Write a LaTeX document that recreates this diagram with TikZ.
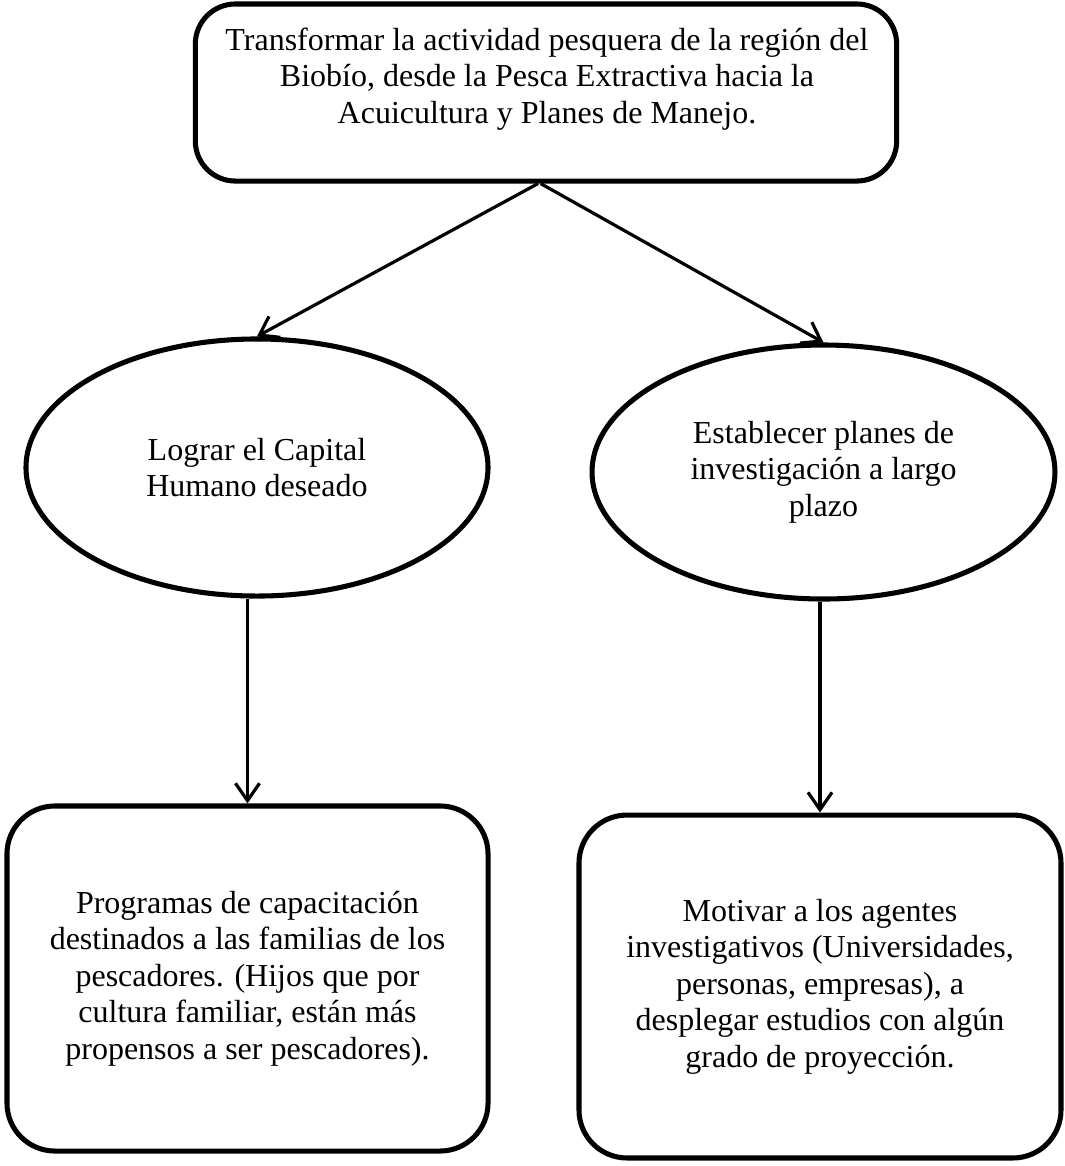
\documentclass[tikz,border=0pt]{standalone}
\usepackage{fontspec}
\setmainfont{Liberation Serif}
\usetikzlibrary{shapes.geometric,arrows.meta}
\begin{document}
\begin{tikzpicture}[x=0.375pt,y=-0.375pt,
    every node/.style={font=\fontsize{12}{13.7}\selectfont,align=center},
    roundbox/.style={draw,line width=1.9pt,rounded corners=18pt,inner sep=0pt},
    oval/.style={draw,ellipse,line width=1.9pt,inner sep=0pt},
    arr/.style={line width=1.2pt,-{Straight Barb[length=6.5pt,width=9pt,line width=1.2pt]}}]
    \useasboundingbox (0,0) rectangle (1065,1166);
    \node[roundbox,rounded corners=15pt,minimum width=263pt,minimum height=66.4pt] (goal) at (546,92.5) {};
    \node at (547,79) {Transformar la actividad pesquera de la región del\\
        Biobío, desde la Pesca Extractiva hacia la\\
        Acuicultura y Planes de Manejo.};
    \node[oval,minimum width=173.25pt,minimum height=96.4pt] (capital) at (257,467.5)
        {Lograr el Capital\\Humano deseado};
    \node[oval,minimum width=173.6pt,minimum height=95.25pt] (plan) at (823.5,472)
        {Establecer planes de\\investigación a largo\\plazo};
    \node[roundbox,minimum width=180.4pt,minimum height=129.4pt] (prog) at (247.5,978.5)
        {Programas de capacitación\\destinados a las familias de los\\pescadores. (Hijos que por\\
        cultura familiar, están más\\propensos a ser pescadores).};
    \node[roundbox,minimum width=180.75pt,minimum height=128.6pt] (motiv) at (820,986.5)
        {Motivar a los agentes\\investigativos (Universidades,\\personas, empresas), a\\
        desplegar estudios con algún\\grado de proyección.};
    \draw[arr] ([xshift=-3pt]goal.south) -- (capital.north);
    \draw[arr] ([xshift=-2pt]goal.south) -- (plan.north);
    \draw[arr] (prog.north |- capital.south) -- (prog.north);
    \draw[arr] (motiv.north |- plan.south) -- (motiv.north);
\end{tikzpicture}
\end{document}
